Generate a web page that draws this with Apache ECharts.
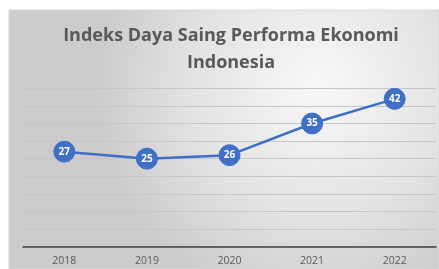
<!DOCTYPE html>
<html><head><meta charset="utf-8">
<script src="https://cdn.jsdelivr.net/npm/echarts@6/dist/echarts.min.js"></script>
<style>html,body{margin:0;padding:0;background:#fff}#c{width:439px;height:269px}</style>
</head><body><div id="c"></div>
<script>
const years = ['2018','2019','2020','2021','2022'];
const indexValues = [27, 25, 26, 35, 42];
const titleLines = ['Indeks Daya Saing Performa Ekonomi', 'Indonesia'];

const chart = echarts.init(document.getElementById('c'), null, {renderer:'canvas'});
chart.setOption({
  animation:false,
  backgroundColor:'#ffffff',
  graphic:[{
    type:'rect', z:-10, silent:true,
    shape:{x:9,y:10,width:430,height:259},
    style:{
      fill:new echarts.graphic.RadialGradient(0.72,0.3,0.85,[
        {offset:0,color:'#f8f8f8'},
        {offset:0.6,color:'#e2e2e2'},
        {offset:1,color:'#cccccc'}
      ]),
      stroke:'#d9d9d9', lineWidth:1
    }
  }],
  title:{
    text:titleLines.join('\n'),
    left:226, textAlign:'center', top:17,
    textStyle:{fontFamily:'Open Sans', fontWeight:'bold', fontSize:18, color:'#595959', lineHeight:27}
  },
  grid:{left:23,right:3,top:88.3,bottom:22.3},
  xAxis:{
    type:'category', data:years, boundaryGap:true,
    axisLine:{lineStyle:{color:'#404040',width:1.5}},
    axisTick:{show:false},
    axisLabel:{color:'#595959',fontSize:10.5,fontFamily:'Open Sans',margin:9}
  },
  yAxis:{
    type:'value', min:0, max:45, interval:5,
    axisLabel:{show:false}, axisLine:{show:false}, axisTick:{show:false},
    splitLine:{lineStyle:{color:'#c6c6c6',width:1}}
  },
  series:[{
    type:'line', data:indexValues,
    symbol:'circle', symbolSize:21,
    lineStyle:{color:'#3f6fc6',width:2.5},
    itemStyle:{color:'#3f6fc6',borderColor:'#3f6fc6'},
    label:{show:true,position:'inside',color:'#ffffff',fontWeight:'bold',fontSize:10,fontFamily:'Open Sans'}
  }]
});
</script></body></html>
